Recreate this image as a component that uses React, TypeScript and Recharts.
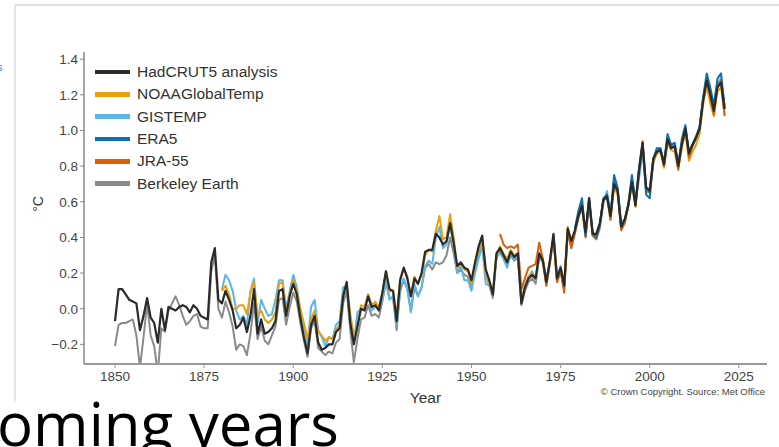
import React from 'react';
import { LineChart, Line, XAxis, YAxis } from 'recharts';

// Global mean temperature difference from 1850-1900 (°C)
const X_TICKS = [1850, 1875, 1900, 1925, 1950, 1975, 2000, 2025];
const Y_TICKS = [-0.2, 0, 0.2, 0.4, 0.6, 0.8, 1.0, 1.2, 1.4];
const FIRST_YEAR = 1850;
const LAST_YEAR = 2021;

// 1850 -> 2021
const hadcrut5 = [
  -0.07, 0.11, 0.11, 0.08, 0.05, 0.04, 0.03, -0.12, -0.04, 0.06,
  -0.05, -0.08, -0.19, 0.0, -0.12, 0.01, 0.0, -0.01, 0.01, 0.02,
  0.01, -0.02, 0.02, 0.0, -0.04, -0.05, -0.06, 0.26, 0.34, 0.05,
  0.03, 0.1, 0.05, -0.01, -0.11, -0.09, -0.05, -0.13, -0.04, 0.11,
  -0.14, -0.06, -0.14, -0.13, -0.11, -0.07, 0.1, 0.11, -0.04, 0.07,
  0.14, 0.08, -0.05, -0.16, -0.25, -0.09, -0.04, -0.19, -0.23, -0.22,
  -0.2, -0.2, -0.13, -0.11, 0.07, 0.15, -0.08, -0.2, -0.1, 0.0,
  -0.01, 0.07, 0.01, 0.02, -0.01, 0.09, 0.21, 0.11, 0.1, -0.07,
  0.16, 0.23, 0.17, 0.07, 0.17, 0.14, 0.2, 0.32, 0.33, 0.33,
  0.42, 0.4, 0.36, 0.38, 0.48, 0.37, 0.24, 0.26, 0.23, 0.22,
  0.16, 0.26, 0.35, 0.41, 0.22, 0.16, 0.08, 0.31, 0.34, 0.3,
  0.26, 0.32, 0.29, 0.31, 0.03, 0.12, 0.17, 0.19, 0.17, 0.31,
  0.27, 0.15, 0.27, 0.42, 0.17, 0.23, 0.13, 0.45, 0.38, 0.44,
  0.52, 0.58, 0.43, 0.62, 0.42, 0.42, 0.48, 0.61, 0.63, 0.52,
  0.7, 0.66, 0.46, 0.5, 0.58, 0.71, 0.58, 0.77, 0.93, 0.68,
  0.66, 0.84, 0.88, 0.89, 0.81, 0.95, 0.9, 0.91, 0.8, 0.92,
  1.01, 0.87, 0.92, 0.96, 1.01, 1.17, 1.28, 1.2, 1.11, 1.24,
  1.27, 1.12,
];

// 1850 -> 2021
const berkeley = [
  -0.21, -0.09, -0.08, -0.08, -0.07, -0.06, -0.15, -0.33, -0.16, 0.03,
  -0.15, -0.21, -0.36, -0.11, -0.13, -0.01, 0.03, 0.07, 0.02, -0.04,
  -0.09, -0.07, -0.04, -0.03, -0.1, -0.11, -0.11, 0.21, 0.3, 0.0,
  -0.05, 0.04, -0.02, -0.1, -0.23, -0.2, -0.21, -0.26, -0.14, 0.03,
  -0.17, -0.1, -0.18, -0.2, -0.15, -0.1, 0.05, 0.06, -0.09, 0.01,
  0.09, 0.04, -0.08, -0.18, -0.27, -0.11, -0.07, -0.22, -0.24, -0.26,
  -0.24, -0.25, -0.19, -0.17, 0.03, 0.1, -0.12, -0.3, -0.17, -0.06,
  -0.05, 0.02, -0.04, -0.03, -0.05, 0.04, 0.15, 0.06, 0.06, -0.12,
  0.1, 0.16, 0.11, -0.01, 0.12, 0.07, 0.12, 0.23, 0.25, 0.22,
  0.26, 0.25, 0.26, 0.3, 0.4, 0.31, 0.2, 0.22, 0.19, 0.18,
  0.12, 0.23, 0.31, 0.37, 0.19, 0.13, 0.06, 0.28, 0.33, 0.28,
  0.24, 0.3, 0.27, 0.29, 0.02, 0.1, 0.15, 0.17, 0.14, 0.29,
  0.26, 0.13, 0.25, 0.4, 0.15, 0.21, 0.11, 0.43, 0.36, 0.43,
  0.52, 0.58, 0.42, 0.61, 0.41, 0.4, 0.47, 0.61, 0.64, 0.52,
  0.7, 0.67, 0.45, 0.49, 0.58, 0.72, 0.58, 0.77, 0.92, 0.68,
  0.67, 0.84, 0.89, 0.89, 0.81, 0.96, 0.91, 0.92, 0.81, 0.93,
  1.02, 0.88, 0.92, 0.97, 1.02, 1.17, 1.29, 1.21, 1.13, 1.26,
  1.29, 1.14,
];

// 1880 -> 2021
const gistemp = [
  0.11, 0.19, 0.16, 0.1, -0.01, -0.06, -0.04, -0.09, 0.1, 0.17,
  -0.08, 0.05, 0.0, -0.04, -0.03, 0.05, 0.16, 0.16, 0.0, 0.1,
  0.19, 0.12, -0.01, -0.1, -0.2, 0.01, 0.05, -0.12, -0.16, -0.21,
  -0.16, -0.17, -0.09, -0.07, 0.12, 0.13, -0.09, -0.19, -0.02, 0.0,
  0.0, 0.08, -0.01, 0.01, 0.0, 0.05, 0.17, 0.05, 0.07, -0.09,
  0.11, 0.17, 0.11, -0.02, 0.14, 0.07, 0.12, 0.24, 0.27, 0.25,
  0.4, 0.46, 0.34, 0.36, 0.47, 0.36, 0.2, 0.24, 0.16, 0.16,
  0.1, 0.2, 0.28, 0.35, 0.14, 0.13, 0.08, 0.3, 0.31, 0.28,
  0.23, 0.31, 0.28, 0.3, 0.05, 0.13, 0.18, 0.21, 0.16, 0.3,
  0.28, 0.17, 0.26, 0.41, 0.18, 0.24, 0.14, 0.44, 0.34, 0.43,
  0.53, 0.59, 0.41, 0.58, 0.43, 0.39, 0.45, 0.59, 0.66, 0.54,
  0.72, 0.67, 0.49, 0.5, 0.58, 0.72, 0.6, 0.73, 0.88, 0.65,
  0.66, 0.81, 0.9, 0.89, 0.8, 0.95, 0.91, 0.93, 0.81, 0.92,
  0.99, 0.88, 0.92, 0.95, 1.02, 1.17, 1.28, 1.19, 1.12, 1.25,
  1.29, 1.12,
];

// 1880 -> 2021
const noaa = [
  0.1, 0.13, 0.08, 0.0, 0.0, 0.02, 0.02, -0.03, 0.09, 0.15,
  -0.04, -0.01, -0.06, -0.08, -0.06, -0.02, 0.14, 0.15, -0.02, 0.08,
  0.16, 0.1, 0.0, -0.08, -0.17, -0.06, -0.01, -0.13, -0.15, -0.18,
  -0.16, -0.17, -0.12, -0.09, 0.08, 0.14, -0.03, -0.15, -0.1, 0.02,
  0.01, 0.08, 0.02, 0.04, 0.01, 0.09, 0.21, 0.1, 0.1, -0.04,
  0.17, 0.23, 0.18, 0.07, 0.18, 0.14, 0.19, 0.3, 0.33, 0.32,
  0.44, 0.52, 0.39, 0.4, 0.53, 0.4, 0.23, 0.25, 0.22, 0.21,
  0.14, 0.25, 0.33, 0.39, 0.2, 0.14, 0.09, 0.3, 0.35, 0.31,
  0.28, 0.33, 0.3, 0.31, 0.06, 0.12, 0.18, 0.2, 0.17, 0.31,
  0.28, 0.16, 0.26, 0.41, 0.17, 0.23, 0.13, 0.46, 0.37, 0.43,
  0.53, 0.57, 0.42, 0.6, 0.41, 0.4, 0.47, 0.61, 0.62, 0.5,
  0.68, 0.64, 0.45, 0.49, 0.57, 0.7, 0.57, 0.78, 0.91, 0.66,
  0.65, 0.82, 0.87, 0.88, 0.79, 0.93, 0.89, 0.88, 0.78, 0.9,
  0.99, 0.83, 0.88, 0.92, 0.98, 1.15, 1.25, 1.15, 1.08, 1.22,
  1.24, 1.09,
];

// 1958 -> 2021
const jra55 = [
  0.42, 0.36,
  0.34, 0.35, 0.34, 0.36, 0.11, 0.17, 0.23, 0.24, 0.25, 0.37,
  0.28, 0.13, 0.27, 0.4, 0.15, 0.21, 0.09, 0.43, 0.34, 0.42,
  0.51, 0.57, 0.4, 0.6, 0.41, 0.39, 0.46, 0.61, 0.64, 0.5,
  0.71, 0.66, 0.44, 0.48, 0.58, 0.73, 0.58, 0.78, 0.94, 0.67,
  0.65, 0.84, 0.89, 0.9, 0.8, 0.96, 0.91, 0.91, 0.78, 0.93,
  1.01, 0.85, 0.91, 0.96, 1.01, 1.18, 1.3, 1.19, 1.09, 1.25,
  1.28, 1.08,
];

// 1979 -> 2021
const era5 = [
  0.45,
  0.55, 0.62, 0.41, 0.62, 0.42, 0.4, 0.47, 0.62, 0.64, 0.52,
  0.75, 0.68, 0.46, 0.5, 0.59, 0.75, 0.6, 0.79, 0.93, 0.64,
  0.62, 0.84, 0.9, 0.9, 0.82, 0.98, 0.92, 0.93, 0.81, 0.95,
  1.03, 0.88, 0.92, 0.96, 1.02, 1.19, 1.32, 1.24, 1.14, 1.29,
  1.32, 1.13,
];

const SERIES = [
  { key: 'hadcrut5', name: 'HadCRUT5 analysis', color: '#2a2a2a', start: 1850, values: hadcrut5 },
  { key: 'noaa', name: 'NOAAGlobalTemp', color: '#e9a00e', start: 1880, values: noaa },
  { key: 'gistemp', name: 'GISTEMP', color: '#5ab6ea', start: 1880, values: gistemp },
  { key: 'era5', name: 'ERA5', color: '#0b6fb2', start: 1979, values: era5 },
  { key: 'jra55', name: 'JRA-55', color: '#d65f0c', start: 1958, values: jra55 },
  { key: 'berkeley', name: 'Berkeley Earth', color: '#8a8a8a', start: 1850, values: berkeley },
];

// bottom to top
const DRAW_ORDER = ['berkeley', 'gistemp', 'noaa', 'jra55', 'era5', 'hadcrut5'];

const rows: any[] = [];
for (let yr = FIRST_YEAR; yr <= LAST_YEAR; yr++) {
  const row: any = { year: yr };
  SERIES.forEach((s) => {
    const i = yr - s.start;
    if (i >= 0 && i < s.values.length) row[s.key] = s.values[i];
  });
  rows.push(row);
}

const FONT = '"Liberation Sans", Arial, sans-serif';
const fmtY = (v: number) => (v < 0 ? '\u2212' : '') + Math.abs(v).toFixed(1);

export default function App() {
  return (
    <div
      style={{
        position: 'absolute',
        left: 0,
        top: 0,
        width: 779,
        height: 447,
        background: '#fff',
        overflow: 'hidden',
        fontFamily: FONT,
      }}
    >
      {/* slide frame + text that sits around the picture */}
      <svg width={779} height={447} style={{ position: 'absolute', left: 0, top: 0 }}>
        <line x1={15} y1={5} x2={779} y2={5} stroke="#d9d9d9" strokeWidth={1.5} />
        <line x1={15} y1={5} x2={15} y2={402} stroke="#dedede" strokeWidth={1.5} />
        <text x={-3} y={71} fontSize={11} fill="#3b7fd0" fontFamily={FONT}>s</text>
        <text x={-3} y={446} fontSize={60} fill="#000" fontFamily='"Open Sans", "Noto Sans", sans-serif'>
          oming years
        </text>
      </svg>

      <div style={{ position: 'absolute', left: 0, top: 0 }}>
        <LineChart
          width={779}
          height={447}
          data={rows}
          margin={{ top: 52, right: 12, bottom: 53, left: 34 }}
        >
          <XAxis
            dataKey="year"
            type="number"
            domain={[1841.3, 2032.9]}
            allowDataOverflow
            ticks={X_TICKS}
            height={30}
            tickSize={4}
            tickMargin={3}
            axisLine={{ stroke: '#9a9a9a', strokeWidth: 2 }}
            tickLine={{ stroke: '#9a9a9a' }}
            tick={{ fontSize: 13.5, fill: '#444', fontFamily: FONT }}
            label={{
              content: (p: any) => {
                const vb = p.viewBox;
                return (
                  <text x={vb.x + vb.width / 2} y={403} textAnchor="middle" fontSize={15.5} fill="#333" fontFamily={FONT}>
                    Year
                  </text>
                );
              },
            }}
          />
          <XAxis xAxisId="top" orientation="top" type="number" domain={[1841.3, 2032.9]} height={0} tick={false} tickLine={false} axisLine={{ stroke: '#b5b5b5', strokeWidth: 2 }} />
          <YAxis
            type="number"
            domain={[-0.31, 1.44]}
            allowDataOverflow
            ticks={Y_TICKS}
            width={50}
            tickSize={4}
            tickMargin={2}
            tickFormatter={fmtY}
            axisLine={{ stroke: '#888', strokeWidth: 1.5 }}
            tickLine={{ stroke: '#888' }}
            tick={{ fontSize: 13.5, fill: '#444', fontFamily: FONT }}
            label={{
              content: (p: any) => {
                const vb = p.viewBox;
                const cx = 38;
                const cy = vb.y + vb.height / 2 - 4;
                return (
                  <text x={cx} y={cy} transform={`rotate(-90, ${cx}, ${cy})`} textAnchor="middle" dominantBaseline="central" fontSize={14} fill="#333" fontFamily={FONT}>
                    °C
                  </text>
                );
              },
            }}
          />
          <YAxis yAxisId="right" orientation="right" type="number" domain={[-0.31, 1.44]} width={0} tick={false} tickLine={false} axisLine={{ stroke: '#8a8a8a', strokeWidth: 1.5 }} />
          {DRAW_ORDER.map((k) => {
            const s = SERIES.find((x) => x.key === k)!;
            return (
              <Line
                key={s.key}
                dataKey={s.key}
                name={s.name}
                type="linear"
                stroke={s.color}
                strokeWidth={s.key === 'hadcrut5' ? 2.2 : 2}
                strokeLinejoin="round"
                dot={false}
                activeDot={false}
                isAnimationActive={false}
              />
            );
          })}
        </LineChart>
      </div>

      {/* legend */}
      <div style={{ position: 'absolute', left: 95, top: 61 }}>
        {SERIES.map((s) => (
          <div key={s.key} style={{ display: 'flex', alignItems: 'center', height: 22.3 }}>
            <div style={{ width: 35, height: 4.5, background: s.color, marginRight: 7 }} />
            <span style={{ fontSize: 15.5, color: '#333', fontFamily: FONT, whiteSpace: 'nowrap' }}>{s.name}</span>
          </div>
        ))}
      </div>

      <div
        style={{
          position: 'absolute',
          right: 14,
          top: 386,
          fontSize: 9.5,
          color: '#444',
          fontFamily: FONT,
          whiteSpace: 'nowrap',
        }}
      >
        © Crown Copyright. Source: Met Office
      </div>
    </div>
  );
}
